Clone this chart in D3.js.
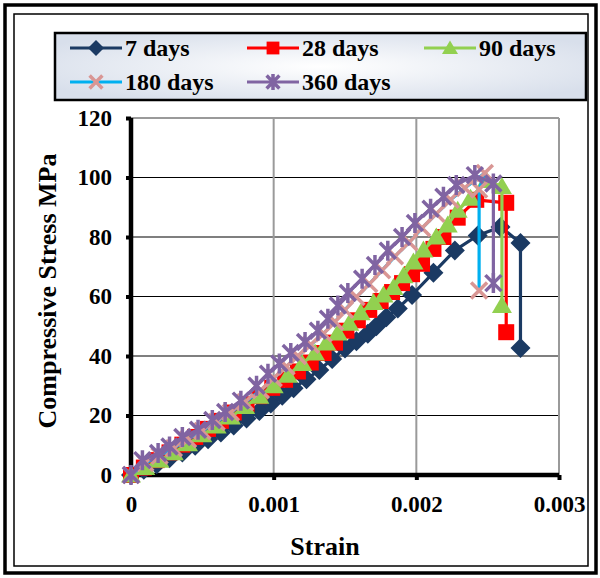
<!DOCTYPE html>
<html lang="en">
  <head>
    <meta charset="utf-8" />
    <title>Compressive stress vs strain</title>
    <script src="https://cdn.jsdelivr.net/npm/d3@7"></script>
    <style>
      body { margin: 0; background: #fff; }
      text { font-family: "Liberation Serif", "Times New Roman", serif; font-weight: bold; fill: #000; }
    </style>
  </head>
  <body>
    <div id="chart"></div>
    <script type="text/javascript">
      // strain values in units of 1e-3, stress in MPa
      const strain7 = [0, 0.09, 0.18, 0.27, 0.36, 0.45, 0.54, 0.63, 0.72, 0.81, 0.9, 0.98, 1.06, 1.14, 1.23, 1.32, 1.41, 1.5, 1.58, 1.66, 1.72, 1.79, 1.87, 1.97, 2.12, 2.27, 2.43, 2.59, 2.73, 2.73];
      const stress7 = [0, 1.8, 3.6, 5.6, 7.6, 9.8, 12, 14.3, 16.6, 19, 21.5, 24, 26.6, 29.2, 32.2, 35.3, 39, 42.5, 45, 47.5, 50, 53, 56, 60.5, 68, 75.5, 80.5, 83.4, 78, 42.7];

      const strain28 = [0, 0.09, 0.18, 0.27, 0.36, 0.45, 0.54, 0.63, 0.72, 0.81, 0.9, 0.99, 1.08, 1.17, 1.26, 1.35, 1.43, 1.51, 1.59, 1.67, 1.75, 1.83, 1.9, 1.97, 2.04, 2.12, 2.19, 2.29, 2.42, 2.63, 2.63];
      const stress28 = [0, 2.5, 5, 7.6, 10.2, 12.8, 15.5, 18.2, 21, 23.8, 26.5, 29.3, 32, 34.8, 37.8, 41, 44.5, 48.5, 52, 55.5, 58.5, 61.5, 64.5, 67.5, 71, 76, 80, 86.5, 92.5, 91.5, 48];

      const strain90 = [0, 0.1, 0.2, 0.3, 0.4, 0.5, 0.6, 0.7, 0.8, 0.9, 1.0, 1.1, 1.2, 1.29, 1.37, 1.45, 1.53, 1.61, 1.7, 1.77, 1.84, 1.91, 1.98, 2.05, 2.14, 2.22, 2.29, 2.38, 2.49, 2.6, 2.6];
      const stress90 = [0, 2.5, 5, 7.5, 10.5, 13.5, 16.5, 19.5, 23, 26.5, 30, 33.5, 37.5, 41, 44.4, 47.7, 51, 54.5, 58, 60.5, 63, 67, 71.6, 75.6, 80, 84, 89, 93, 99, 97, 57];

      const strain180 = [0, 0.1, 0.2, 0.3, 0.4, 0.5, 0.6, 0.7, 0.8, 0.91, 1.0, 1.09, 1.17, 1.26, 1.35, 1.43, 1.5, 1.58, 1.67, 1.76, 1.85, 1.95, 2.04, 2.14, 2.24, 2.34, 2.48, 2.44, 2.44];
      const stress180 = [0, 4, 6.5, 9, 12, 14.8, 17.8, 21, 24.5, 28.5, 32.5, 36.5, 40, 43.8, 47.6, 51.5, 55.5, 59.8, 64.2, 68.8, 73.5, 78.2, 83, 87.8, 92.5, 96.5, 101.5, 96, 62];

      const strain360 = [0, 0.08, 0.19, 0.27, 0.36, 0.47, 0.57, 0.66, 0.77, 0.88, 0.96, 1.04, 1.12, 1.22, 1.31, 1.38, 1.45, 1.52, 1.62, 1.71, 1.8, 1.9, 1.99, 2.1, 2.19, 2.28, 2.41, 2.54, 2.54];
      const stress360 = [0, 5, 7.4, 9.6, 12.8, 15.2, 18.5, 21.2, 25, 30, 34, 37.5, 41, 44.7, 48.5, 52.5, 57, 61.2, 66, 70.6, 75.4, 80, 84.7, 89.5, 93.5, 97.5, 100.8, 98, 64.5];

      const xTicks = [0, 0.001, 0.002, 0.003];
      const xTickLabels = ["0", "0.001", "0.002", "0.003"];
      const yTicks = [0, 20, 40, 60, 80, 100, 120];

      const series = [
        { name: "7 days", strain: strain7, stress: stress7, line: "#1b3a63", marker: "diamond", mfill: "#1b3a63" },
        { name: "28 days", strain: strain28, stress: stress28, line: "#ff0000", marker: "square", mfill: "#ff0000" },
        { name: "90 days", strain: strain90, stress: stress90, line: "#92d050", marker: "triangle", mfill: "#92d050" },
        { name: "180 days", strain: strain180, stress: stress180, line: "#00b0f0", marker: "x", mfill: "#d99694" },
        { name: "360 days", strain: strain360, stress: stress360, line: "#8064a2", marker: "star", mfill: "#8064a2" }
      ];

      const width = 600, height = 578;
      const svg = d3.select("#chart").append("svg").attr("width", width).attr("height", height);

      // double frame
      svg.append("rect").attr("x", 5).attr("y", 5).attr("width", 591).attr("height", 568)
        .attr("fill", "#fff").attr("stroke", "#000").attr("stroke-width", 3.5);
      svg.append("rect").attr("x", 14).attr("y", 14).attr("width", 574).attr("height", 552)
        .attr("fill", "none").attr("stroke", "#000").attr("stroke-width", 1.5);

      const x = d3.scaleLinear().domain([0, 0.003]).range([131, 559]);
      const y = d3.scaleLinear().domain([0, 120]).range([475, 118]);

      // gridlines
      svg.append("g").selectAll("line").data(yTicks.filter(d => d > 0 && d < 120)).join("line")
        .attr("x1", x(0)).attr("x2", x(0.003)).attr("y1", d => y(d)).attr("y2", d => y(d))
        .attr("stroke", "#000").attr("stroke-width", 1.2);
      svg.append("line").attr("x1", x(0)).attr("x2", x(0.003)).attr("y1", y(120)).attr("y2", y(120))
        .attr("stroke", "#9a9a9a").attr("stroke-width", 2);
      svg.append("g").selectAll("line").data(xTicks.filter(d => d > 0)).join("line")
        .attr("x1", d => x(d)).attr("x2", d => x(d)).attr("y1", y(120)).attr("y2", y(0))
        .attr("stroke", "#9a9a9a").attr("stroke-width", 2);

      // axes
      const yAxis = svg.append("g").attr("transform", `translate(${x(0)},0)`)
        .call(d3.axisLeft(y).tickValues(yTicks).tickSize(5).tickPadding(14));
      const xAxis = svg.append("g").attr("transform", `translate(0,${y(0)})`)
        .call(d3.axisBottom(x).tickValues(xTicks).tickFormat((d, i) => xTickLabels[i]).tickSize(5).tickPadding(16));
      [xAxis, yAxis].forEach(a => {
        a.select(".domain").attr("stroke", "#000").attr("stroke-width", 4.5);
        a.selectAll(".tick line").attr("stroke", "#000").attr("stroke-width", 4);
        a.selectAll(".tick text").attr("font-size", 23)
          .attr("font-family", "'Liberation Serif', 'Times New Roman', serif").attr("font-weight", "bold").attr("fill", "#000");
      });
      xAxis.select(".domain").attr("d", `M${x(0)},0H${x(0.003)}`);
      yAxis.select(".domain").attr("d", `M0,${y(0)}V${y(120)}`);

      // marker drawing
      function drawMarker(g, type, color, size) {
        const r = size;
        if (type === "diamond") {
          g.append("path").attr("d", `M0,${-r}L${r},0L0,${r}L${-r},0Z`).attr("fill", color);
        } else if (type === "square") {
          const h = r * 0.8;
          g.append("rect").attr("x", -h).attr("y", -h).attr("width", 2 * h).attr("height", 2 * h).attr("fill", color);
        } else if (type === "triangle") {
          g.append("path").attr("d", `M0,${-r * 0.95}L${r},${r * 0.75}L${-r},${r * 0.75}Z`).attr("fill", color);
        } else if (type === "x") {
          const h = r * 0.8;
          g.append("path").attr("d", `M${-h},${-h}L${h},${h}M${-h},${h}L${h},${-h}`)
            .attr("stroke", color).attr("stroke-width", 3.5).attr("fill", "none");
        } else if (type === "star") {
          const h = r * 0.8;
          g.append("path").attr("d", `M${-h},${-h}L${h},${h}M${-h},${h}L${h},${-h}M0,${-r}L0,${r}`)
            .attr("stroke", color).attr("stroke-width", 3.5).attr("fill", "none");
        }
      }

      const line = d3.line().x(d => x(d[0] / 1000)).y(d => y(d[1]));

      series.forEach(s => {
        const pts = s.strain.map((v, i) => [v, s.stress[i]]);
        const g = svg.append("g");
        g.append("path").datum(pts).attr("d", line)
          .attr("fill", "none").attr("stroke", s.line).attr("stroke-width", 3.2).attr("stroke-linejoin", "round");
        g.selectAll("g.m").data(pts).join("g").attr("class", "m")
          .attr("transform", d => `translate(${x(d[0] / 1000)},${y(d[1])})`)
          .each(function () { drawMarker(d3.select(this), s.marker, s.mfill, 10); });
      });

      // axis titles
      svg.append("text").attr("x", 325).attr("y", 555).attr("text-anchor", "middle")
        .attr("font-size", 26).text("Strain");
      svg.append("text").attr("transform", "translate(56,291) rotate(-90)").attr("text-anchor", "middle")
        .attr("font-size", 26).text("Compressive Stress MPa");

      // legend
      const defs = svg.append("defs");
      const grad = defs.append("radialGradient").attr("id", "legbg").attr("cx", "50%").attr("cy", "50%").attr("r", "60%");
      grad.append("stop").attr("offset", "0%").attr("stop-color", "#ffffff");
      grad.append("stop").attr("offset", "100%").attr("stop-color", "#d8dfeb");
      svg.append("rect").attr("x", 55).attr("y", 33).attr("width", 531).attr("height", 67)
        .attr("fill", "url(#legbg)").attr("stroke", "#000").attr("stroke-width", 2.5);

      const legendPos = [[70, 48], [247, 48], [424, 48], [70, 82], [247, 82]];
      series.forEach((s, i) => {
        const [lx, ly] = legendPos[i];
        const g = svg.append("g").attr("transform", `translate(${lx},${ly})`);
        g.append("line").attr("x1", 0).attr("x2", 52).attr("stroke", s.line).attr("stroke-width", 3.2);
        const m = g.append("g").attr("transform", "translate(26,0)");
        drawMarker(m, s.marker, s.mfill, 8);
        g.append("text").attr("x", 55).attr("y", 8).attr("font-size", 24).text(s.name);
      });
    </script>
  </body>
</html>
